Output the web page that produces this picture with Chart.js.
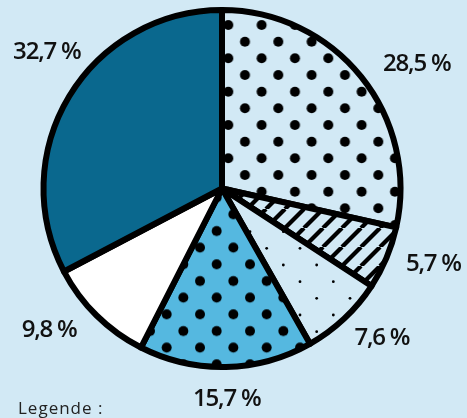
<!DOCTYPE html>
<html>
<head>
<meta charset="utf-8">
<script src="https://cdn.jsdelivr.net/npm/chart.js@4.4.1/dist/chart.umd.min.js"></script>
<style>
  html, body { margin: 0; padding: 0; background: #d2e9f5; }
  #wrap { width: 467px; height: 418px; }
</style>
</head>
<body>
<div id="wrap"><canvas id="pieChart" width="467" height="418"></canvas></div>
<script>
// Shares in percent, clockwise from 12 o'clock
const categories = ['A', 'B', 'C', 'D', 'E', 'F'];
const shares = [28.5, 5.7, 7.6, 15.7, 9.8, 32.7];
const legendTitle = 'Legende:';

// Small nudges so the labels sit where the original put them
const labelNudge = [[25, 12], [11, -9], [11, -9], [0, -7], [-20, -13], [11, -24]];

const BG = '#d2e9f5';
const DARK = '#0a688e';
const MID = '#55b8e0';

// Diagonal dot grid, 33.3px cells
function dotPattern(ctx, bg, dot, r, ox, oy) {
    const size = 100;
    const step = size / 3;
    const c = document.createElement('canvas');
    c.width = size;
    c.height = size;
    const g = c.getContext('2d');
    g.fillStyle = bg;
    g.fillRect(0, 0, size, size);
    g.fillStyle = dot;
    for (let i = -1; i <= 3; i++) {
        for (let j = -1; j <= 3; j++) {
            [[0, 0], [step / 2, step / 2]].forEach(([dx, dy]) => {
                g.beginPath();
                g.arc(i * step + dx, j * step + dy, r, 0, Math.PI * 2);
                g.fill();
            });
        }
    }
    const p = ctx.createPattern(c, 'repeat');
    p.setTransform(new DOMMatrix([1, 0, 0, 1, ox, oy]));
    return p;
}

// "/" hatching
function stripePattern(ctx, bg, line, period, width) {
    const c = document.createElement('canvas');
    c.width = period;
    c.height = period;
    const g = c.getContext('2d');
    g.fillStyle = bg;
    g.fillRect(0, 0, period, period);
    g.strokeStyle = line;
    g.lineWidth = width;
    [-period, 0, period].forEach(o => {
        g.beginPath();
        g.moveTo(o, period);
        g.lineTo(o + period, 0);
        g.stroke();
    });
    return ctx.createPattern(c, 'repeat');
}

const ctx = document.getElementById('pieChart').getContext('2d');

const fills = [
    dotPattern(ctx, BG, '#000', 5, 28.3, 25),
    stripePattern(ctx, BG, '#000', 19, 4.2),
    dotPattern(ctx, BG, '#000', 1.4, 0, 15),
    dotPattern(ctx, MID, '#000', 5, 0, 14.3),
    '#ffffff',
    DARK
];

const percentLabels = {
    id: 'percentLabels',
    afterDatasetsDraw(chart) {
        const c = chart.ctx;
        const arcs = chart.getDatasetMeta(0).data;
        c.save();
        c.fillStyle = '#111';
        c.font = '600 24px "Open Sans"';
        c.letterSpacing = '-1.2px';
        c.textAlign = 'center';
        c.textBaseline = 'middle';
        arcs.forEach((arc, i) => {
            const mid = (arc.startAngle + arc.endAngle) / 2;
            const r = arc.outerRadius + 39;
            const x = arc.x + Math.cos(mid) * r + labelNudge[i][0];
            const y = arc.y + Math.sin(mid) * r + labelNudge[i][1];
            const txt = shares[i].toFixed(1).replace('.', ',') + ' %';
            c.fillText(txt, x, y);
        });
        c.font = '400 17px "Open Sans"';
        c.letterSpacing = '1px';
        c.textAlign = 'left';
        c.textBaseline = 'alphabetic';
        c.fillStyle = '#222';
        c.fillText(legendTitle.replace(':', ' :'), 18, 414);
        c.restore();
    }
};

new Chart(ctx, {
    type: 'pie',
    data: {
        labels: categories,
        datasets: [{
            data: shares,
            backgroundColor: fills,
            borderColor: '#000',
            borderWidth: 6,
            borderJoinStyle: 'round'
        }]
    },
    options: {
        responsive: false,
        animation: false,
        events: [],
        radius: 178.5,
        layout: { padding: { left: 43, right: 66, top: 10, bottom: 51 } },
        plugins: {
            legend: { display: false },
            tooltip: { enabled: false }
        }
    },
    plugins: [percentLabels]
});
</script>
</body>
</html>
